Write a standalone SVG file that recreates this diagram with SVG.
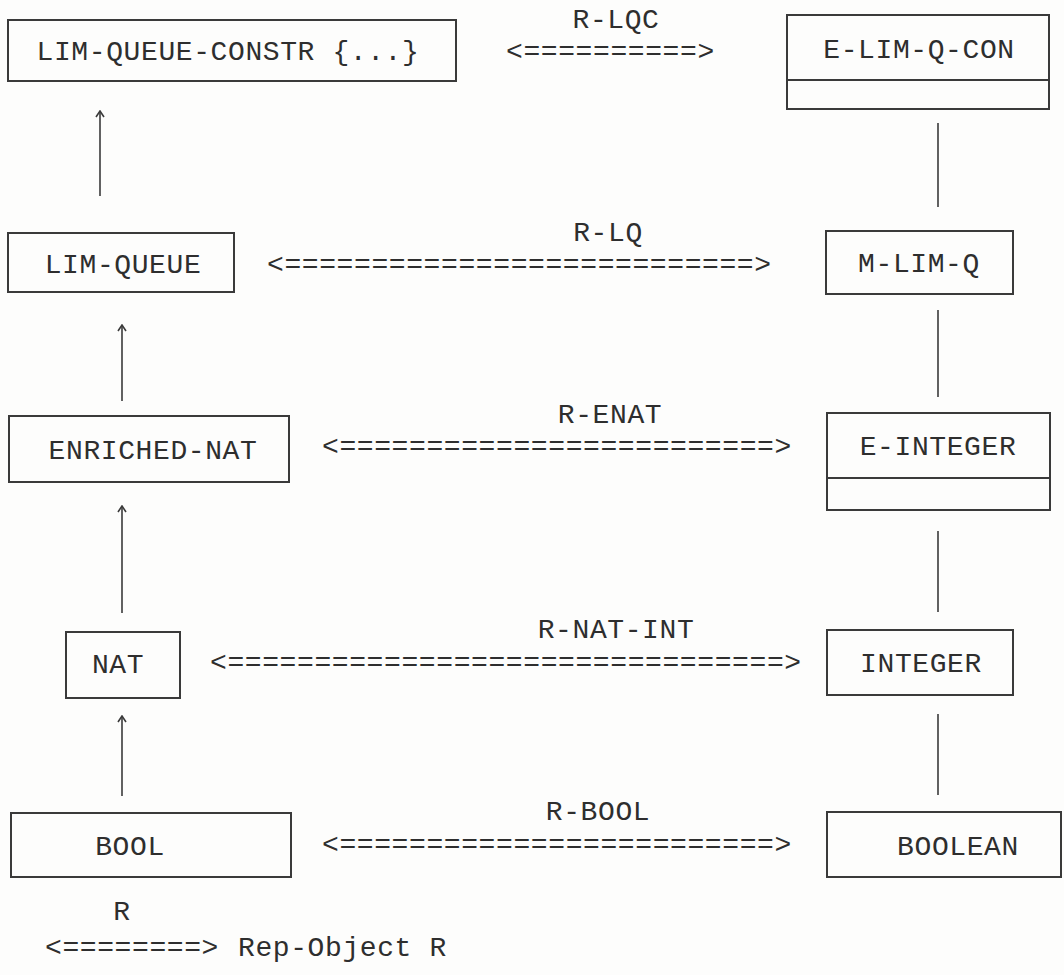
<svg xmlns="http://www.w3.org/2000/svg" width="1064" height="975" viewBox="0 0 1064 975">
  <style>
    .box { fill: none; stroke: #3a3a3a; stroke-width: 2; }
    .lbl { font-family: "Liberation Mono", "DejaVu Sans Mono", monospace; font-size: 28px; letter-spacing: 0.6px; fill: #2e2e2e; }
    .mid { text-anchor: middle; }
    .wire { stroke: #3a3a3a; stroke-width: 1.6; fill: none; }
  </style>
  <defs>
    <marker id="up" viewBox="0 0 8 10" refX="7" refY="5" markerWidth="8" markerHeight="10" markerUnits="userSpaceOnUse" orient="auto">
      <path d="M1,1 L7,5 L1,9" fill="none" stroke="#3a3a3a" stroke-width="1.6"/>
    </marker>
  </defs>
  <rect width="1064" height="975" fill="#fdfdfc"/>

  <!-- left column: specifications -->
  <g id="lim-queue-constr">
    <rect class="box" x="8" y="20" width="448" height="61"/>
    <text class="lbl mid" x="228" y="60">LIM-QUEUE-CONSTR {...}</text>
  </g>
  <g id="lim-queue">
    <rect class="box" x="8" y="233" width="226" height="59"/>
    <text class="lbl mid" x="123" y="273">LIM-QUEUE</text>
  </g>
  <g id="enriched-nat">
    <rect class="box" x="9" y="416" width="280" height="66"/>
    <text class="lbl mid" x="153" y="459">ENRICHED-NAT</text>
  </g>
  <g id="nat">
    <rect class="box" x="66" y="632" width="114" height="66"/>
    <text class="lbl mid" x="118" y="673">NAT</text>
  </g>
  <g id="bool">
    <rect class="box" x="11" y="813" width="280" height="64"/>
    <text class="lbl mid" x="130" y="855">BOOL</text>
  </g>

  <!-- right column: representation objects -->
  <g id="e-lim-q-con">
    <rect class="box" x="787" y="15" width="262" height="94"/>
    <line class="box" x1="787" y1="80" x2="1049" y2="80"/>
    <text class="lbl mid" x="919" y="58">E-LIM-Q-CON</text>
  </g>
  <g id="m-lim-q">
    <rect class="box" x="826" y="231" width="187" height="63"/>
    <text class="lbl mid" x="919" y="272">M-LIM-Q</text>
  </g>
  <g id="e-integer">
    <rect class="box" x="827" y="413" width="223" height="97"/>
    <line class="box" x1="827" y1="478" x2="1050" y2="478"/>
    <text class="lbl mid" x="938" y="455">E-INTEGER</text>
  </g>
  <g id="integer">
    <rect class="box" x="827" y="630" width="186" height="65"/>
    <text class="lbl mid" x="921" y="672">INTEGER</text>
  </g>
  <g id="boolean">
    <rect class="box" x="827" y="812" width="234" height="65"/>
    <text class="lbl mid" x="958" y="855">BOOLEAN</text>
  </g>

  <!-- connectors: inclusion arrows, vertical links, representation relations -->
  <g id="connectors">
    <line class="wire" x1="100" y1="196" x2="100" y2="111" marker-end="url(#up)"/>
    <line class="wire" x1="122" y1="401" x2="122" y2="325" marker-end="url(#up)"/>
    <line class="wire" x1="122" y1="613" x2="122" y2="506" marker-end="url(#up)"/>
    <line class="wire" x1="122" y1="796" x2="122" y2="716" marker-end="url(#up)"/>

    <line class="wire" x1="938" y1="123" x2="938" y2="207"/>
    <line class="wire" x1="938" y1="310" x2="938" y2="397"/>
    <line class="wire" x1="938" y1="531" x2="938" y2="612"/>
    <line class="wire" x1="938" y1="714" x2="938" y2="795"/>

    <text class="lbl mid" x="616" y="28">R-LQC</text>
    <text class="lbl" x="506" y="60">&lt;==========&gt;</text>

    <text class="lbl mid" x="608" y="241">R-LQ</text>
    <text class="lbl" x="267" y="273">&lt;===========================&gt;</text>

    <text class="lbl mid" x="610" y="423">R-ENAT</text>
    <text class="lbl" x="322" y="455">&lt;=========================&gt;</text>

    <text class="lbl mid" x="616" y="638">R-NAT-INT</text>
    <text class="lbl" x="210" y="671">&lt;================================&gt;</text>

    <text class="lbl mid" x="598" y="820">R-BOOL</text>
    <text class="lbl" x="322" y="853">&lt;=========================&gt;</text>
  </g>

  <!-- legend -->
  <g id="legend">
    <text class="lbl mid" x="122" y="920">R</text>
    <text class="lbl" x="45" y="956">&lt;========&gt;</text>
    <text class="lbl" x="238" y="956">Rep-Object R</text>
  </g>
</svg>
